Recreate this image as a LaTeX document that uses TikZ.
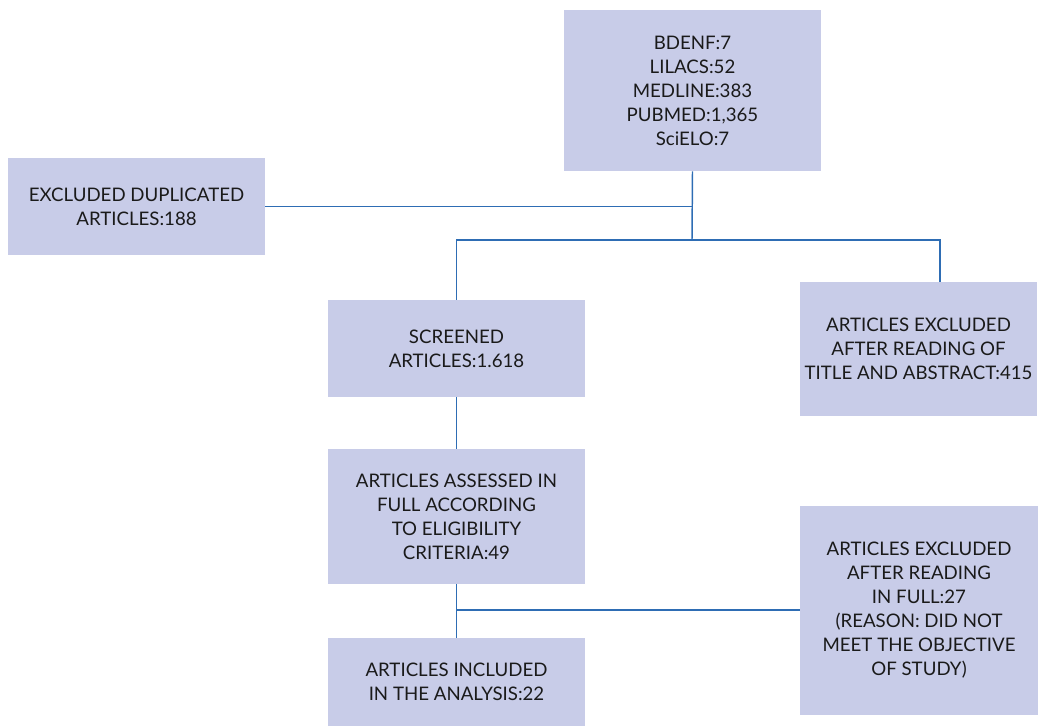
\documentclass[tikz,border=0pt]{standalone}
\usepackage{fontspec}
\setmainfont{Lato}
\usepackage{xcolor}
\usepackage{tikz}
\usetikzlibrary{positioning, calc}
\definecolor{flowfill}{HTML}{C8CCE8}
\definecolor{flowline}{HTML}{2E6DB4}
\definecolor{flowtext}{HTML}{1A1A1A}

\begin{document}
\begin{tikzpicture}[
  x=0.75pt, y=-0.75pt,
  flowbox/.style={rectangle, fill=flowfill, inner sep=0pt, align=center, text=flowtext, font=\fontsize{14}{18}\selectfont},
  link/.style={draw=flowline, line width=1.1pt}
]
  \useasboundingbox (0,0) rectangle (1047,727);
  % boxes
  \node[flowbox, minimum width=257*0.75pt, minimum height=161*0.75pt] (sources) at (692.5,90.5)
    {BDENF:7\\LILACS:52\\MEDLINE:383\\PUBMED:1,365\\SciELO:7};
  \node[flowbox, minimum width=257*0.75pt, minimum height=97*0.75pt] (duplicated) at (136.5,206.5)
    {EXCLUDED DUPLICATED\\ARTICLES:188};
  \node[flowbox, minimum width=257*0.75pt, minimum height=97*0.75pt] (screened) at (456.5,348.5)
    {SCREENED\\ARTICLES:1.618};
  \node[flowbox, minimum width=237*0.75pt, minimum height=134*0.75pt] (titleexcl) at (918.5,349)
    {ARTICLES EXCLUDED\\AFTER READING OF\\TITLE AND ABSTRACT:415};
  \node[flowbox, minimum width=257*0.75pt, minimum height=134*0.75pt] (assessed) at (456.5,516.5)
    {ARTICLES ASSESSED IN\\FULL ACCORDING\\TO ELIGIBILITY\\CRITERIA:49};
  \node[flowbox, minimum width=257*0.75pt, minimum height=88*0.75pt] (included) at (456.5,682)
    {ARTICLES INCLUDED\\IN THE ANALYSIS:22};
  \node[flowbox, minimum width=238*0.75pt, minimum height=209*0.75pt] (fullexcl) at (919,610.5)
    {ARTICLES EXCLUDED\\AFTER READING\\IN FULL:27\\(REASON: DID NOT\\MEET THE OBJECTIVE\\OF STUDY)};
  % branch points
  \coordinate (split) at (692,240);
  \coordinate (splitR) at (940,240);
  \coordinate (join) at (457,610);
  % connectors
  \draw[link] (sources.south) -- (split);
  \draw[link] (duplicated.east) -- (duplicated.east -| split);
  \draw[link] (screened.north) |- (splitR) -- (splitR |- titleexcl.north);
  \draw[link] (screened.south) -- (assessed.north);
  \draw[link] (assessed.south) -- (included.north);
  \draw[link] (join) -- (join -| fullexcl.west);
\end{tikzpicture}
\end{document}
